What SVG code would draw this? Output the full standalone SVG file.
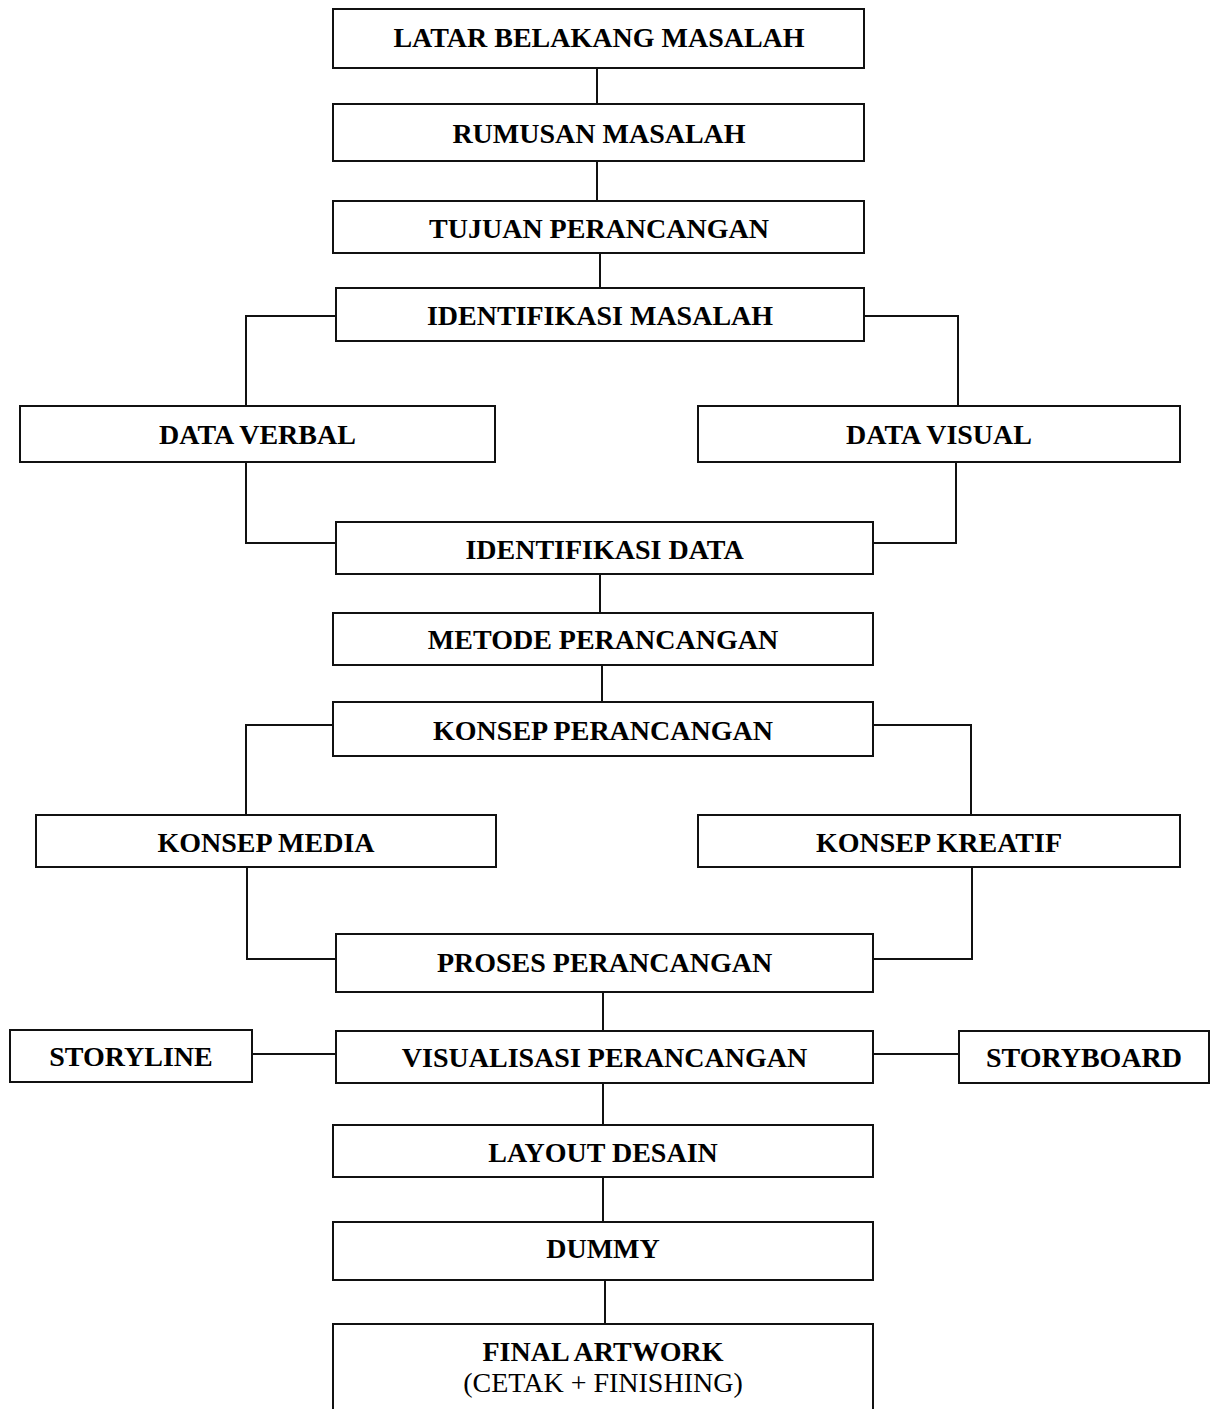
<svg xmlns="http://www.w3.org/2000/svg" width="1214" height="1409" viewBox="0 0 1214 1409">
<style>
.box{fill:#fff;stroke:#111;stroke-width:2}
.lbl{font-family:"Liberation Serif","Times New Roman",serif;font-size:28px;font-weight:bold;fill:#000;text-anchor:middle}
.reg{font-weight:normal}
.con{fill:none;stroke:#111;stroke-width:2}
</style>
<rect width="1214" height="1409" fill="#fff"/>
<g id="connectors">
<path class="con" d="M597 68V104"/>
<path class="con" d="M597 161V201"/>
<path class="con" d="M600 253V288"/>
<path class="con" d="M336 316H246V406"/>
<path class="con" d="M864 316H958V406"/>
<path class="con" d="M246 462V543H336"/>
<path class="con" d="M956 462V543H873"/>
<path class="con" d="M600 574V613"/>
<path class="con" d="M602 665V702"/>
<path class="con" d="M333 725H246V815"/>
<path class="con" d="M873 725H971V815"/>
<path class="con" d="M247 867V959H336"/>
<path class="con" d="M972 867V959H873"/>
<path class="con" d="M603 992V1031"/>
<path class="con" d="M252 1054H336"/>
<path class="con" d="M873 1054H959"/>
<path class="con" d="M603 1083V1125"/>
<path class="con" d="M603 1177V1222"/>
<path class="con" d="M605 1280V1324"/>
</g>
<g id="n1"><rect class="box" x="333" y="9" width="531" height="59"/><text class="lbl" x="599" y="47">LATAR BELAKANG MASALAH</text></g>
<g id="n2"><rect class="box" x="333" y="104" width="531" height="57"/><text class="lbl" x="599" y="143">RUMUSAN MASALAH</text></g>
<g id="n3"><rect class="box" x="333" y="201" width="531" height="52"/><text class="lbl" x="599" y="238">TUJUAN PERANCANGAN</text></g>
<g id="n4"><rect class="box" x="336" y="288" width="528" height="53"/><text class="lbl" x="600" y="325">IDENTIFIKASI MASALAH</text></g>
<g id="n5"><rect class="box" x="20" y="406" width="475" height="56"/><text class="lbl" x="257.5" y="444">DATA VERBAL</text></g>
<g id="n6"><rect class="box" x="698" y="406" width="482" height="56"/><text class="lbl" x="939" y="444">DATA VISUAL</text></g>
<g id="n7"><rect class="box" x="336" y="522" width="537" height="52"/><text class="lbl" x="604.5" y="559">IDENTIFIKASI DATA</text></g>
<g id="n8"><rect class="box" x="333" y="613" width="540" height="52"/><text class="lbl" x="603" y="649">METODE PERANCANGAN</text></g>
<g id="n9"><rect class="box" x="333" y="702" width="540" height="54"/><text class="lbl" x="603" y="740">KONSEP PERANCANGAN</text></g>
<g id="n10"><rect class="box" x="36" y="815" width="460" height="52"/><text class="lbl" x="266" y="852">KONSEP MEDIA</text></g>
<g id="n11"><rect class="box" x="698" y="815" width="482" height="52"/><text class="lbl" x="939" y="852">KONSEP KREATIF</text></g>
<g id="n12"><rect class="box" x="336" y="934" width="537" height="58"/><text class="lbl" x="604.5" y="972">PROSES PERANCANGAN</text></g>
<g id="n13"><rect class="box" x="10" y="1030" width="242" height="52"/><text class="lbl" x="131" y="1066">STORYLINE</text></g>
<g id="n14"><rect class="box" x="336" y="1031" width="537" height="52"/><text class="lbl" x="604.5" y="1067">VISUALISASI PERANCANGAN</text></g>
<g id="n15"><rect class="box" x="959" y="1031" width="250" height="52"/><text class="lbl" x="1084" y="1067">STORYBOARD</text></g>
<g id="n16"><rect class="box" x="333" y="1125" width="540" height="52"/><text class="lbl" x="603" y="1162">LAYOUT DESAIN</text></g>
<g id="n17"><rect class="box" x="333" y="1222" width="540" height="58"/><text class="lbl" x="603" y="1258">DUMMY</text></g>
<g id="n18"><rect class="box" x="333" y="1324" width="540" height="100"/><text class="lbl" x="603" y="1361">FINAL ARTWORK</text><text class="lbl reg" x="603" y="1392">(CETAK + FINISHING)</text></g>
</svg>
